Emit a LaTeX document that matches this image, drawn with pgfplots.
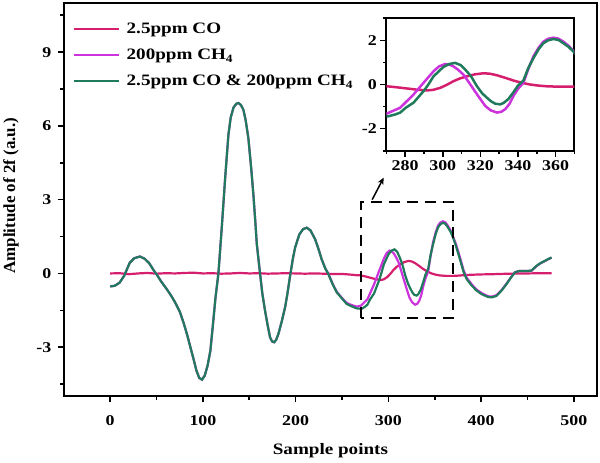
\documentclass[border=0pt]{standalone}
\usepackage{pgfplots}
\pgfplotsset{compat=1.18}
\usepackage{pgfplotstable}
\usepackage{fontspec}
\setmainfont{Liberation Serif}
\newfontfamily\wide[FakeStretch=1.2]{Liberation Serif}
\usetikzlibrary{arrows.meta}

\definecolor{coCol}{RGB}{214,30,110}
\definecolor{chCol}{RGB}{204,51,221}
\definecolor{mixCol}{RGB}{32,122,92}

% 2.5 ppm CO
\pgfplotstableread{
x y
0 0
10 0.01
20 -0.03
30 0.0
40 0.02
50 -0.01
60 0.01
70 0.0
80 0.02
90 0.03
100 0.0
110 0.01
120 -0.01
130 0.0
140 0.02
150 0.0
160 0.01
170 -0.01
180 0.0
190 0.01
200 0.0
210 -0.01
220 0.0
230 -0.01
240 -0.02
250 -0.02
260 -0.05
265 -0.07
270.4 -0.08
276 -0.13
281 -0.18
286 -0.23
291.6 -0.27
295 -0.24
298.7 -0.15
302 -0.02
305.7 0.15
309 0.27
312.8 0.37
317 0.46
321.7 0.51
325 0.49
328.8 0.42
333 0.31
337.6 0.18
342 0.08
346.5 0.0
351 -0.05
355.3 -0.08
362 -0.1
369.5 -0.1
375 -0.09
385 -0.06
400 -0.04
413 -0.03
430 -0.01
450 0.0
465 0.01
476 0.01
}\tabCO

% 200 ppm CH4
\pgfplotstableread{
x y
0 -0.53
5 -0.5
10 -0.38
15 -0.1
21 0.43
26 0.62
32 0.69
37 0.6
42 0.42
47 0.12
50 -0.03
55 -0.33
61 -0.64
66 -0.92
70 -1.18
75 -1.55
79 -1.99
83 -2.5
86 -2.93
90 -3.5
93 -3.95
96 -4.25
99 -4.32
102 -4.15
105 -3.75
108 -3.15
111 -2.0
113.5 -1.0
116.7 0
120.3 1.86
124 3.9
127.5 5.65
130 6.35
133 6.75
136 6.9
138.3 6.93
141 6.85
143.6 6.66
146 6.25
149 5.5
152 4.3
154.4 3.21
156.5 2.1
158.1 1.19
161.6 0
164 -0.8
167 -1.52
170 -2.15
172.4 -2.6
174.5 -2.76
176.7 -2.8
179 -2.7
181.4 -2.46
185 -1.95
188.6 -1.38
191 -0.85
194 -0.1
197 0.6
199.4 1.05
204 1.59
208 1.8
212 1.86
216 1.75
221 1.39
225 0.95
228 0.58
232 0.2
235.3 -0.01
240 -0.43
244.3 -0.75
250 -1.0
255 -1.2
260 -1.28
265.8 -1.35
270.4 -1.31
277.4 -1.05
284.5 -0.45
289.8 0.08
295.1 0.6
298 0.82
301.3 0.93
303.5 0.9
305.7 0.82
308 0.68
311 0.45
313.5 0.15
316.4 -0.22
319.5 -0.6
322.6 -0.97
325.5 -1.17
328.8 -1.27
331 -1.24
333.2 -1.12
335.5 -0.88
337.6 -0.52
340 -0.2
342.9 0.08
345.5 0.7
348.2 1.27
351 1.67
353.5 1.94
356 2.07
358.8 2.12
361.5 2.08
364.2 1.94
367 1.75
369.5 1.52
373 1.18
377 0.68
381 0.14
384.4 -0.17
390 -0.45
395.2 -0.66
401 -0.81
407.7 -0.93
412 -0.94
416.7 -0.88
422 -0.68
427.5 -0.41
432 -0.17
436.4 0.05
441 0.1
445.4 0.1
450 0.1
454.4 0.11
459.8 0.3
464 0.41
468.8 0.5
472 0.57
476 0.64
}\tabCH

% 2.5 ppm CO & 200 ppm CH4
\pgfplotstableread{
x y
0 -0.53
5 -0.5
10 -0.38
15 -0.1
21 0.43
26 0.62
32 0.69
37 0.6
42 0.42
47 0.12
50 -0.03
55 -0.33
61 -0.64
66 -0.92
70 -1.18
75 -1.55
79 -1.99
83 -2.5
86 -2.93
90 -3.5
93 -3.95
96 -4.25
99 -4.32
102 -4.15
105 -3.75
108 -3.15
111 -2.0
113.5 -1.0
116.7 0
120.3 1.86
124 3.9
127.5 5.65
130 6.35
133 6.75
136 6.9
138.3 6.93
141 6.85
143.6 6.66
146 6.25
149 5.5
152 4.3
154.4 3.21
156.5 2.1
158.1 1.19
161.6 0
164 -0.8
167 -1.52
170 -2.15
172.4 -2.6
174.5 -2.76
176.7 -2.8
179 -2.7
181.4 -2.46
185 -1.95
188.6 -1.38
191 -0.85
194 -0.1
197 0.6
199.4 1.05
204 1.59
208 1.8
212 1.86
216 1.75
221 1.39
225 0.95
228 0.58
232 0.2
235.3 -0.03
240 -0.45
244.3 -0.77
250 -1.02
255 -1.24
260 -1.33
265.8 -1.42
271 -1.44
275 -1.35
277.4 -1.27
280.2 -1.06
284.5 -0.82
290 -0.28
292.5 0.02
295.1 0.37
300.4 0.8
303.5 0.93
306.6 0.98
309.5 0.88
312 0.67
315 0.38
318.2 -0.08
321 -0.4
323.5 -0.6
326 -0.78
328 -0.87
330.5 -0.9
332.3 -0.84
335 -0.65
337.6 -0.35
340 -0.05
342.9 0.18
345.5 0.75
348.2 1.19
351 1.6
353.5 1.87
356 2.0
358.8 2.06
361.5 2.02
364.2 1.87
367 1.7
369.5 1.49
373 1.1
377 0.6
381 0.07
384.4 -0.23
390 -0.5
395.2 -0.7
401 -0.85
407.7 -0.96
412 -0.97
416.7 -0.91
422 -0.7
427.5 -0.43
432 -0.18
436.4 0.04
441 0.1
445.4 0.1
450 0.1
454.4 0.12
459.8 0.31
464 0.42
468.8 0.51
472 0.58
476 0.65
}\tabMix

\pgfplotsset{
  frameStyle/.style={
    scale only axis,
    axis line style={line width=2bp},
    tick align=outside,
    xtick pos=bottom, ytick pos=left,
    major tick length=6bp, minor tick length=3.5bp,
    every tick/.style={black, line width=1.6bp},
    /pgf/number format/assume math mode=true,
    ticklabel style={font=\fontsize{15}{18}\wide\bfseries},
  },
}

\begin{document}
\begin{tikzpicture}
\path (0,0) rectangle (600bp,463bp);
\begin{axis}[
  frameStyle,
  at={(63bp,66bp)}, anchor=south west,
  width=534bp, height=394bp,
  xmin=-50, xmax=525, ymin=-5, ymax=11,
  xtick={0,100,...,500}, minor xtick={50,150,...,450},
  ytick={-3,0,3,6,9}, minor ytick={-4.5,-1.5,1.5,4.5,7.5,10.5},
  xticklabel style={yshift=-10bp},
  yticklabel style={xshift=-3bp},
  xlabel={Sample points},
  ylabel={Amplitude of 2f (a.u.)},
  xlabel style={font=\fontsize{16}{19}\wide\bfseries,
    at={(axis description cs:0.5,-0.147)}, anchor=base},
  ylabel style={font=\fontsize{17}{20}\selectfont\bfseries,
    at={(axis description cs:-0.099,0.51)}, anchor=center},
  legend style={draw=none, fill=none, at={(0.0104,0.959)}, anchor=north west,
    font=\fontsize{16}{19}\wide\bfseries, row sep=10bp,
    /tikz/every even column/.append style={column sep=2bp}},
  legend cell align=left,
  legend image code/.code={\draw[#1] (0bp,0bp) -- (45bp,0bp);},
]
\addplot[coCol, line width=2.2bp] table[x=x, y=y] {\tabCO};
\addlegendentry{\hspace{5bp}2.5ppm CO}
\addplot[chCol, line width=2.2bp] table[x=x, y=y] {\tabCH};
\addlegendentry{\hspace{5bp}200ppm CH\textsubscript{4}}
\addplot[mixCol, line width=2.2bp] table[x=x, y=y] {\tabMix};
\addlegendentry{\hspace{5bp}2.5ppm CO \& 200ppm CH\textsubscript{4}}
\draw[line width=2bp, dash pattern=on 11bp off 7bp] (axis cs:270,-1.8) rectangle (axis cs:370,2.9);
\draw[line width=1.5bp, -{Stealth[length=7bp,width=6bp]}] (axis cs:282.5,3.0) -- (axis cs:295,3.9);
\end{axis}

\begin{axis}[
  frameStyle,
  at={(386bp,312bp)}, anchor=south west,
  width=188.3bp, height=132.7bp,
  xmin=270, xmax=370, ymin=-3, ymax=3,
  xtick={280,300,...,360}, minor xtick={270,290,...,370},
  ytick={-2,0,2}, minor ytick={-3,-1,1,3},
  axis background/.style={fill=white},
]
\addplot[coCol, line width=2.5bp] table[x=x, y=y] {\tabCO};
\addplot[chCol, line width=2.5bp] table[x=x, y=y] {\tabCH};
\addplot[mixCol, line width=2.5bp] table[x=x, y=y] {\tabMix};
\end{axis}
\end{tikzpicture}
\end{document}
